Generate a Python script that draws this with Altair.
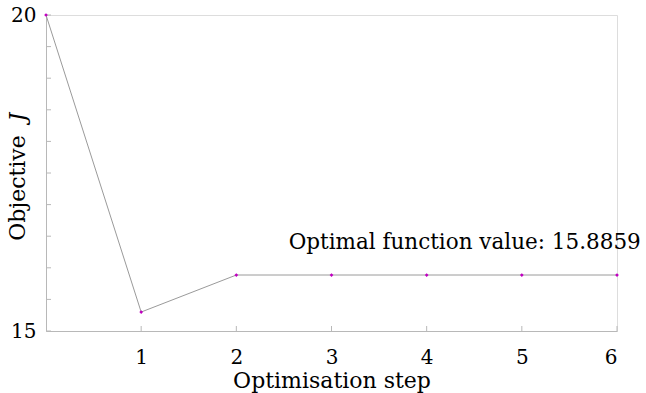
import altair as alt
import pandas as pd

# Objective value recorded at each optimisation step
steps = [0, 1, 2, 3, 4, 5, 6]
objective = [20.0, 15.30, 15.8859, 15.8859, 15.8859, 15.8859, 15.8859]

# Axis ticks
x_tick_values = [1, 2, 3, 4, 5, 6]
y_tick_values = [15.0, 15.5, 16.0, 16.5, 17.0, 17.5, 18.0, 18.5, 19.0, 19.5, 20.0]
y_label_values = [15, 20]

# Annotation
note_text = "Optimal function value: 15.8859"
note_x = [4.4]
note_y = [16.40]

FONT = "DejaVu Serif"
FS_TICK = 20
FS_TEXT = 22
AXIS_GREY = "#b8b8b8"
W, H = 571, 316

df = pd.DataFrame({"step": steps, "J": objective})
xticks_df = pd.DataFrame({"step": x_tick_values})
yticks_df = pd.DataFrame({"J": y_tick_values})
note_df = pd.DataFrame({"step": note_x, "J": note_y, "label": [note_text]})

x_scale = alt.Scale(domain=[0, 6], nice=False, zero=False)
y_scale = alt.Scale(domain=[15, 20], nice=False, zero=False)

x_axis = alt.Axis(values=x_tick_values, format="d", tickSize=0, labelPadding=16, grid=False,
                  domainColor=AXIS_GREY, labelFont=FONT, labelFontSize=FS_TICK, labelColor="black",
                  title="Optimisation step", titleFont=FONT, titleFontSize=FS_TEXT,
                  titleFontWeight="normal", titleColor="black", titlePadding=3)
y_axis = alt.Axis(values=y_label_values, format="d", tickSize=0, labelPadding=10, grid=False,
                  domainColor=AXIS_GREY, labelFont=FONT, labelFontSize=FS_TICK, labelColor="black",
                  title=None)

base = alt.Chart(df)

line = base.mark_line(color="#9a9a9a", strokeWidth=1).encode(
    x=alt.X("step:Q", scale=x_scale, axis=x_axis),
    y=alt.Y("J:Q", scale=y_scale, axis=y_axis),
)

points = base.mark_point(shape="diamond", filled=True, color="#c000c0", size=14, opacity=1).encode(
    x=alt.X("step:Q", scale=x_scale),
    y=alt.Y("J:Q", scale=y_scale),
)

# inward-pointing tick marks on both axes
x_ticks = alt.Chart(xticks_df).mark_rule(color=AXIS_GREY, strokeWidth=1).encode(
    x=alt.X("step:Q", scale=x_scale),
    y=alt.value(H - 5),
    y2=alt.value(H),
)
y_ticks = alt.Chart(yticks_df).mark_rule(color=AXIS_GREY, strokeWidth=1).encode(
    y=alt.Y("J:Q", scale=y_scale),
    x=alt.value(0),
    x2=alt.value(5),
)

note = alt.Chart(note_df).mark_text(font=FONT, fontSize=21.5, color="black",
                                    align="center", baseline="middle").encode(
    x=alt.X("step:Q", scale=x_scale),
    y=alt.Y("J:Q", scale=y_scale),
    text="label:N",
)

# y-axis title with an italic J
title_main = alt.Chart(pd.DataFrame({"t": ["Objective"]})).mark_text(
    font=FONT, fontSize=FS_TEXT, color="black", angle=270,
    align="center", baseline="middle").encode(
    x=alt.value(-28), y=alt.value(173), text="t:N")
title_j = alt.Chart(pd.DataFrame({"t": ["J"]})).mark_text(
    font=FONT, fontSize=FS_TEXT, color="black", fontStyle="italic", angle=270,
    align="center", baseline="middle").encode(
    x=alt.value(-28), y=alt.value(102), text="t:N")

chart = alt.layer(line, x_ticks, y_ticks, points, note, title_main, title_j).properties(
    width=W, height=H,
    autosize=alt.AutoSizeParams(type="none"),
    padding={"left": 46, "top": 15, "right": 29, "bottom": 62},
).configure_view(stroke=None).configure(background="white")

chart.save("out.html", embed_options={"renderer": "svg", "actions": False})
